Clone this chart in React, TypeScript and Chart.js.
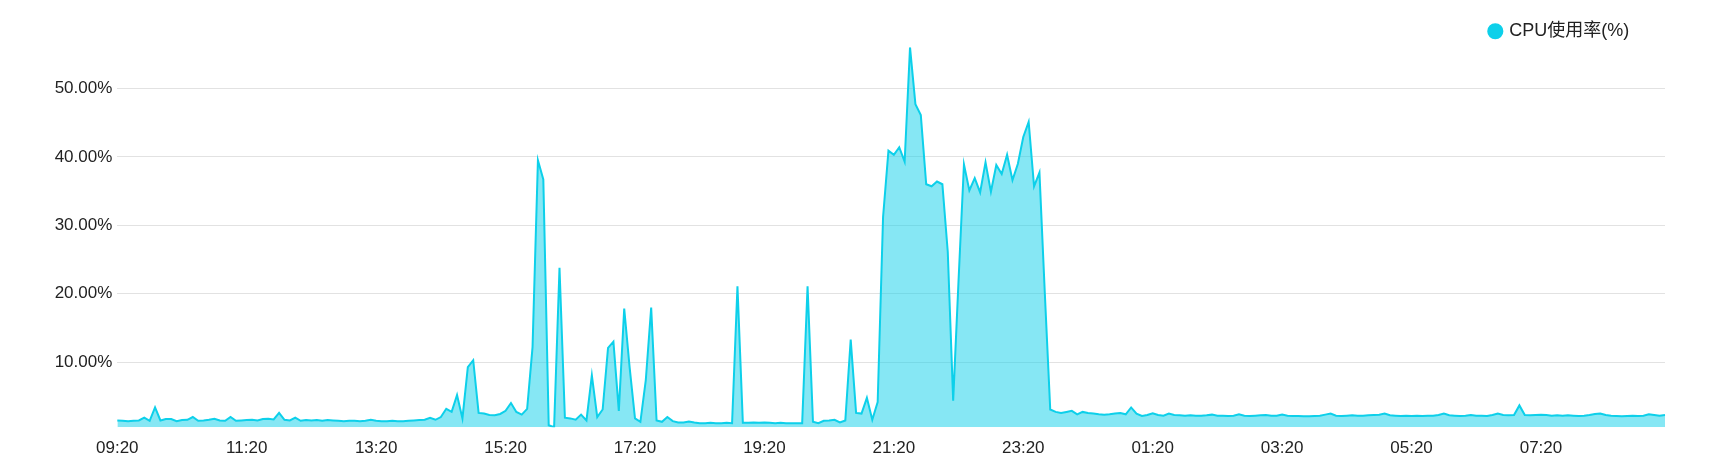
import React, { useEffect, useRef } from 'react';
import { Chart, registerables } from 'chart.js';

Chart.register(...registerables);

// ---- data ----
const seriesName = 'CPU使用率(%)';
const startTime = '09:20';
const stepMinutes = 5;
const labelEvery = 24; // one tick label every 2 hours

const cpuUsage = [
  1.5, 1.45, 1.4, 1.45, 1.5, 1.9, 1.45, 3.4, 1.5, 1.7,
  1.7, 1.4, 1.55, 1.6, 2.0, 1.45, 1.5, 1.6, 1.75, 1.5,
  1.45, 2.0, 1.45, 1.5, 1.55, 1.6, 1.5, 1.7, 1.75, 1.65,
  2.6, 1.6, 1.5, 1.9, 1.45, 1.55, 1.5, 1.55, 1.45, 1.55,
  1.5, 1.45, 1.4, 1.45, 1.45, 1.4, 1.45, 1.6, 1.45, 1.4,
  1.4, 1.45, 1.4, 1.4, 1.45, 1.5, 1.55, 1.6, 1.9, 1.6,
  2.0, 3.2, 2.75, 5.2, 1.8, 9.3, 10.3, 2.6, 2.5, 2.3,
  2.25, 2.45, 2.9, 4.05, 2.75, 2.35, 3.2, 12.2, 39.5, 36.7,
  0.8, 0.5, 23.8, 1.9, 1.8, 1.6, 2.35, 1.5, 8.1, 2.0,
  3.1, 12.1, 13.0, 2.9, 17.85, 9.3, 1.8, 1.3, 7.4, 18.0,
  1.5, 1.3, 2.0, 1.4, 1.2, 1.2, 1.35, 1.2, 1.1, 1.1,
  1.15, 1.1, 1.1, 1.15, 1.1, 21.1, 1.15, 1.15, 1.2, 1.15,
  1.2, 1.15, 1.1, 1.15, 1.1, 1.1, 1.1, 1.1, 21.1, 1.3,
  1.1, 1.45, 1.5, 1.6, 1.2, 1.5, 13.3, 2.6, 2.5, 4.8,
  1.6, 4.2, 31.2, 40.9, 40.3, 41.4, 39.3, 56.0, 47.7, 46.1,
  36.0, 35.7, 36.4, 36.0, 26.1, 4.4, 22.0, 38.9, 35.1, 36.9,
  34.8, 39.2, 34.9, 38.8, 37.5, 40.3, 36.6, 39.0, 42.9, 45.1,
  35.7, 37.7, 20.0, 3.1, 2.75, 2.6, 2.75, 2.9, 2.4, 2.75,
  2.6, 2.5, 2.4, 2.35, 2.4, 2.5, 2.6, 2.4, 3.4, 2.5,
  2.15, 2.3, 2.55, 2.3, 2.2, 2.5, 2.3, 2.25, 2.2, 2.25,
  2.2, 2.2, 2.25, 2.35, 2.2, 2.2, 2.15, 2.2, 2.4, 2.2,
  2.15, 2.2, 2.25, 2.3, 2.2, 2.2, 2.35, 2.2, 2.15, 2.15,
  2.1, 2.1, 2.15, 2.2, 2.35, 2.5, 2.2, 2.15, 2.2, 2.25,
  2.2, 2.2, 2.25, 2.3, 2.35, 2.5, 2.25, 2.2, 2.15, 2.2,
  2.15, 2.2, 2.15, 2.2, 2.2, 2.3, 2.5, 2.25, 2.2, 2.15,
  2.2, 2.3, 2.2, 2.2, 2.15, 2.3, 2.5, 2.3, 2.25, 2.3,
  3.7, 2.3, 2.25, 2.3, 2.35, 2.3, 2.2, 2.25, 2.2, 2.25,
  2.2, 2.15, 2.2, 2.3, 2.45, 2.5, 2.3, 2.2, 2.15, 2.1,
  2.15, 2.2, 2.15, 2.2, 2.4, 2.3, 2.2, 2.3,
];

const yTickValues = [10, 20, 30, 40, 50];

function buildTimeLabels(start: string, step: number, count: number): string[] {
  const [h, m] = start.split(':').map(Number);
  const base = h * 60 + m;
  const out: string[] = [];
  for (let i = 0; i < count; i++) {
    const t = (base + i * step) % (24 * 60);
    const hh = String(Math.floor(t / 60)).padStart(2, '0');
    const mm = String(t % 60).padStart(2, '0');
    out.push(`${hh}:${mm}`);
  }
  return out;
}

const timeLabels = buildTimeLabels(startTime, stepMinutes, cpuUsage.length);

// ---- layout / style ----
const W = 1693;
const H = 449;
const PLOT_LEFT = 109.3;
const PLOT_RIGHT_PAD = 36;
const PLOT_TOP = 39.3;
const PLOT_BOTTOM = 419.3;
const LEGEND_PAD = 14.3;
const LEGEND_TEXT_RIGHT = 1621.3;

const LINE_COLOR = '#0dd0ea';
const FILL_COLOR = 'rgba(13,208,234,0.5)';
const GRID_COLOR = '#e2e2e2';
const TEXT_COLOR = '#222222';
const FONT_FAMILY = '"Liberation Sans", Arial, "Noto Sans CJK SC", sans-serif';

const legendLayoutPlugin = {
  id: 'legendLayout',
  beforeLayout(chart: any) {
    const lg = chart.legend;
    if (lg && !lg.__patched) {
      const orig = lg.fit.bind(lg);
      lg.fit = function () {
        orig();
        this.height = PLOT_TOP;
      };
      lg.__patched = true;
    }
  },
  afterLayout(chart: any) {
    const lg = chart.legend;
    if (lg) {
      lg.right = LEGEND_TEXT_RIGHT + LEGEND_PAD;
    }
  },
};

export default function App() {
  const canvasRef = useRef<HTMLCanvasElement | null>(null);

  useEffect(() => {
    if (!canvasRef.current) return;
    const chart = new Chart(canvasRef.current, {
      type: 'line',
      data: {
        labels: timeLabels,
        datasets: [
          {
            label: seriesName,
            data: cpuUsage,
            borderColor: LINE_COLOR,
            backgroundColor: FILL_COLOR,
            pointBackgroundColor: LINE_COLOR,
            pointBorderColor: LINE_COLOR,
            borderWidth: 2,
            pointRadius: 0,
            pointHoverRadius: 0,
            tension: 0,
            fill: 'start',
          },
        ],
      },
      options: {
        animation: false,
        responsive: true,
        maintainAspectRatio: false,
        layout: { padding: { left: 0, right: PLOT_RIGHT_PAD, top: 0, bottom: 0 } },
        plugins: {
          tooltip: { enabled: false },
          legend: {
            display: true,
            position: 'top',
            align: 'end',
            labels: {
              usePointStyle: true,
              pointStyle: 'circle',
              boxWidth: 10,
              boxHeight: 10,
              padding: LEGEND_PAD,
              color: TEXT_COLOR,
              font: { size: 18, family: FONT_FAMILY },
            },
          },
        },
        scales: {
          x: {
            type: 'category',
            grid: { display: false },
            border: { display: false },
            ticks: {
              autoSkip: false,
              maxRotation: 0,
              minRotation: 0,
              padding: 3,
              color: TEXT_COLOR,
              font: { size: 17, family: FONT_FAMILY },
              callback: (_v: any, idx: number) => (idx % labelEvery === 0 ? timeLabels[idx] : ''),
            },
            afterFit: (scale: any) => {
              scale.height = H - PLOT_BOTTOM;
            },
          },
          y: {
            type: 'linear',
            min: Math.min(...cpuUsage),
            max: Math.max(...cpuUsage),
            grid: { color: GRID_COLOR, lineWidth: 1, drawTicks: false },
            border: { display: false },
            afterBuildTicks: (scale: any) => {
              scale.ticks = yTickValues.map((value) => ({ value }));
            },
            afterFit: (scale: any) => {
              scale.width = PLOT_LEFT;
            },
            ticks: {
              padding: 5,
              color: TEXT_COLOR,
              font: { size: 17, family: FONT_FAMILY },
              callback: (v: any) => `${Number(v).toFixed(2)}%`,
            },
          },
        },
      },
      plugins: [legendLayoutPlugin],
    });
    return () => chart.destroy();
  }, []);

  return (
    <div style={{ position: 'relative', width: W, height: H }}>
      <canvas ref={canvasRef} />
    </div>
  );
}
